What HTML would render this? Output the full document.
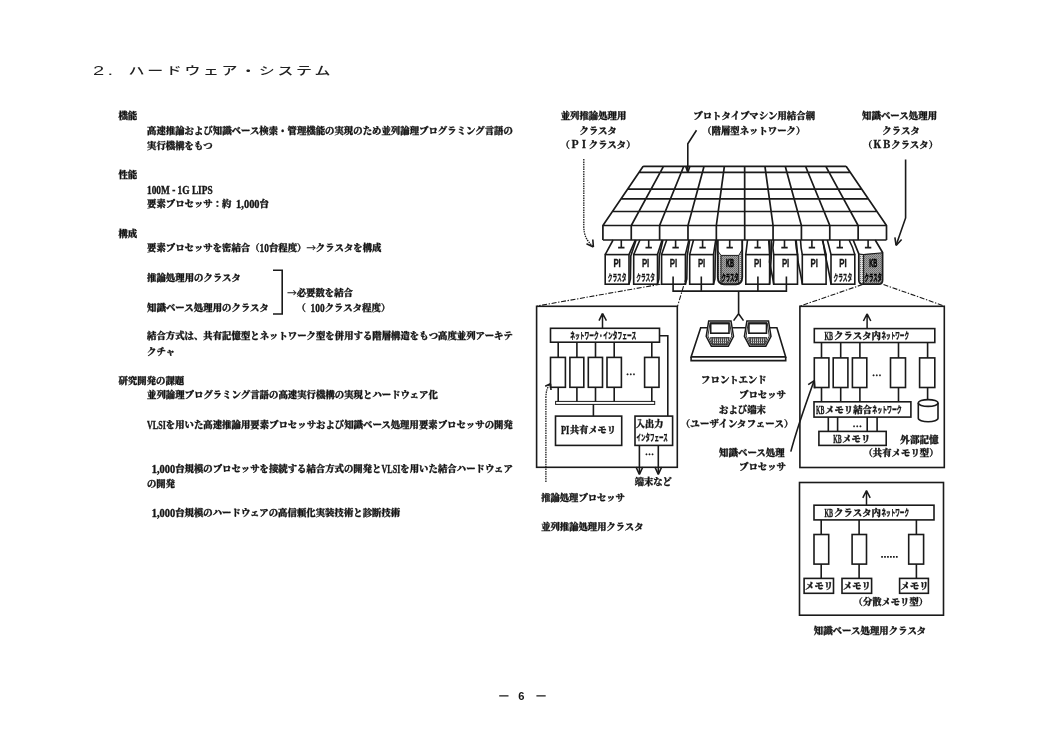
<!DOCTYPE html>
<html lang="ja"><head><meta charset="utf-8"><title>2. ハードウェア・システム</title>
<style>
html,body{margin:0;padding:0;background:#fff;}
svg{display:block;will-change:transform}
text{fill:#161616;white-space:pre}
.m{font-family:"Liberation Serif","Noto Serif CJK JP","Noto Serif CJK SC",serif;font-weight:900;stroke:#161616;stroke-width:0.3}
.a{font-weight:700;stroke-width:0.4}
.ar{font-family:"Noto Serif CJK JP","Noto Serif CJK SC",serif}
.k{font-family:"Liberation Sans","Noto Sans CJK JP",sans-serif;font-weight:900;stroke-width:0.25}
.s{font-family:"Liberation Sans","Noto Sans CJK JP",sans-serif;font-weight:700;stroke:#161616;stroke-width:0.35}
.t{font-family:"Liberation Sans","Noto Sans CJK JP",sans-serif;font-weight:500;fill:#222}
.pn{font-family:"Liberation Sans","Noto Sans CJK JP",sans-serif;font-weight:700}
.l{fill:none;stroke:#1a1a1a;stroke-width:1.6;stroke-linejoin:miter}
.g{stroke-width:1.7}
.n{stroke:none}
.d{fill:none;stroke:#1a1a1a;stroke-width:1.3;stroke-dasharray:1.5 0.9}
.da{fill:none;stroke:#1a1a1a;stroke-width:1.2;stroke-dasharray:4 2}
.dd{fill:none;stroke:#1a1a1a;stroke-width:1.1;stroke-dasharray:5 1.6 1.4 1.6}
</style></head>
<body>
<svg width="1054" height="750" viewBox="0 0 1054 750">
<defs>
<pattern id="sh" width="2" height="2" patternUnits="userSpaceOnUse"><rect width="2" height="2" fill="#a4a4a4"/><rect width="1" height="1" fill="#6a6a6a"/><rect x="1" y="1" width="1" height="1" fill="#7c7c7c"/></pattern>
<pattern id="sl" width="2" height="2" patternUnits="userSpaceOnUse"><rect width="2" height="2" fill="#d8d8d8"/><rect width="1" height="1" fill="#777"/></pattern>
<pattern id="kbd" width="2" height="2.4" patternUnits="userSpaceOnUse"><rect width="2" height="2.4" fill="#ddd"/><rect width="1" height="2.4" fill="#444"/><rect width="2" height="0.9" fill="#555"/></pattern>
</defs>
<rect width="1054" height="750" fill="#fff"/>
<text class="t" transform="translate(93.00,75.3) scale(1.5,1)" font-size="13.4">2</text>
<text class="t" transform="translate(107.50,75.3) scale(1.5,1)" font-size="13.4">.</text>
<text class="t" transform="translate(128.60,75.3) scale(1.48,1)" font-size="10.8">ハ</text>
<text class="t" transform="translate(147.20,75.3) scale(1.48,1)" font-size="10.8">ー</text>
<text class="t" transform="translate(165.80,75.3) scale(1.48,1)" font-size="10.8">ド</text>
<text class="t" transform="translate(184.40,75.3) scale(1.48,1)" font-size="10.8">ウ</text>
<text class="t" transform="translate(203.00,75.3) scale(1.48,1)" font-size="10.8">ェ</text>
<text class="t" transform="translate(221.60,75.3) scale(1.48,1)" font-size="10.8">ア</text>
<text class="t" transform="translate(240.20,75.3) scale(1.48,1)" font-size="10.8">・</text>
<text class="t" transform="translate(258.80,75.3) scale(1.48,1)" font-size="10.8">シ</text>
<text class="t" transform="translate(277.40,75.3) scale(1.48,1)" font-size="10.8">ス</text>
<text class="t" transform="translate(296.00,75.3) scale(1.48,1)" font-size="10.8">テ</text>
<text class="t" transform="translate(314.60,75.3) scale(1.48,1)" font-size="10.8">ム</text>
<text class="m" x="118.50" y="118.88" font-size="9.38" textLength="18.76" lengthAdjust="spacing">機能</text>
<text class="m" x="147.00" y="133.58" font-size="9.38" textLength="365.82" lengthAdjust="spacing">高速推論および知識ベース検索・管理機能の実現のため並列論理プログラミング言語の</text>
<text class="m" x="147.00" y="148.68" font-size="9.38" textLength="65.66" lengthAdjust="spacing">実行機構をもつ</text>
<text class="m" x="118.50" y="178.38" font-size="9.38" textLength="18.76" lengthAdjust="spacing">性能</text>
<text class="m a" x="147.00" y="194.31" font-size="12.38" textLength="65.66" lengthAdjust="spacingAndGlyphs">100M - 1G LIPS</text>
<text class="m" x="147.00" y="207.38" font-size="9.38" textLength="84.42" lengthAdjust="spacing">要素プロセッサ：約</text>
<text class="m a" x="236.11" y="208.31" font-size="12.38" textLength="23.45" lengthAdjust="spacingAndGlyphs">1,000</text>
<text class="m" x="259.56" y="207.38" font-size="9.38" textLength="9.38" lengthAdjust="spacing">台</text>
<text class="m" x="118.50" y="237.38" font-size="9.38" textLength="18.76" lengthAdjust="spacing">構成</text>
<text class="m" x="147.00" y="251.08" font-size="9.38" textLength="112.56" lengthAdjust="spacing">要素プロセッサを密結合（</text>
<text class="m a" x="259.56" y="252.01" font-size="12.38" textLength="9.38" lengthAdjust="spacingAndGlyphs">10</text>
<text class="m" x="268.94" y="251.08" font-size="9.38">台</text>
<text class="m" x="278.32" y="251.08" font-size="9.38">程</text>
<text class="m" x="287.70" y="251.08" font-size="9.38">度</text>
<text class="m" x="297.08" y="251.08" font-size="9.38">）</text>
<text class="m ar" x="306.46" y="251.08" font-size="9.38">→</text>
<text class="m" x="315.84" y="251.08" font-size="9.38">ク</text>
<text class="m" x="325.22" y="251.08" font-size="9.38">ラ</text>
<text class="m" x="334.60" y="251.08" font-size="9.38">ス</text>
<text class="m" x="343.98" y="251.08" font-size="9.38">タ</text>
<text class="m" x="353.36" y="251.08" font-size="9.38">を</text>
<text class="m" x="362.74" y="251.08" font-size="9.38">構</text>
<text class="m" x="372.12" y="251.08" font-size="9.38">成</text>
<text class="m" x="147.00" y="281.38" font-size="9.38" textLength="93.80" lengthAdjust="spacing">推論処理用のクラスタ</text>
<text class="m ar" x="287.30" y="295.88" font-size="9.38">→</text>
<text class="m" x="296.68" y="295.88" font-size="9.38">必</text>
<text class="m" x="306.06" y="295.88" font-size="9.38">要</text>
<text class="m" x="315.44" y="295.88" font-size="9.38">数</text>
<text class="m" x="324.82" y="295.88" font-size="9.38">を</text>
<text class="m" x="334.20" y="295.88" font-size="9.38">結</text>
<text class="m" x="343.58" y="295.88" font-size="9.38">合</text>
<text class="m" x="147.00" y="310.78" font-size="9.38" textLength="121.94" lengthAdjust="spacing">知識ベース処理用のクラスタ</text>
<text class="m" x="296.50" y="310.78" font-size="9.38" textLength="9.38" lengthAdjust="spacing">（</text>
<text class="m a" x="310.57" y="311.71" font-size="12.38" textLength="14.07" lengthAdjust="spacingAndGlyphs">100</text>
<text class="m" x="324.64" y="310.78" font-size="9.38" textLength="65.66" lengthAdjust="spacing">クラスタ程度）</text>
<path class="l" d="M273 270.3 H282.2 V314 H273" />
<text class="m" x="147.00" y="338.58" font-size="9.38" textLength="365.82" lengthAdjust="spacing">結合方式は、共有記憶型とネットワーク型を併用する階層構造をもつ高度並列アーキテ</text>
<text class="m" x="147.00" y="354.88" font-size="9.38" textLength="28.14" lengthAdjust="spacing">クチャ</text>
<text class="m" x="118.50" y="383.88" font-size="9.38" textLength="65.66" lengthAdjust="spacing">研究開発の課題</text>
<text class="m" x="147.00" y="398.08" font-size="9.38" textLength="290.78" lengthAdjust="spacing">並列論理プログラミング言語の高速実行機構の実現とハードウェア化</text>
<text class="m a" x="147.00" y="428.91" font-size="12.38" textLength="18.76" lengthAdjust="spacingAndGlyphs">VLSI</text>
<text class="m" x="165.76" y="427.98" font-size="9.38" textLength="347.06" lengthAdjust="spacing">を用いた高速推論用要素プロセッサおよび知識ベース処理用要素プロセッサの開発</text>
<text class="m a" x="151.69" y="472.51" font-size="12.38" textLength="23.45" lengthAdjust="spacingAndGlyphs">1,000</text>
<text class="m" x="175.14" y="471.58" font-size="9.38" textLength="206.36" lengthAdjust="spacing">台規模のプロセッサを接続する結合方式の開発と</text>
<text class="m a" x="381.50" y="472.51" font-size="12.38" textLength="18.76" lengthAdjust="spacingAndGlyphs">VLSI</text>
<text class="m" x="400.26" y="471.58" font-size="9.38" textLength="112.56" lengthAdjust="spacing">を用いた結合ハードウェア</text>
<text class="m" x="147.00" y="486.68" font-size="9.38" textLength="28.14" lengthAdjust="spacing">の開発</text>
<text class="m a" x="151.69" y="517.21" font-size="12.38" textLength="23.45" lengthAdjust="spacingAndGlyphs">1,000</text>
<text class="m" x="175.14" y="516.28" font-size="9.38" textLength="225.12" lengthAdjust="spacing">台規模のハードウェアの高信頼化実装技術と診断技術</text>
<text class="pn" x="518.3" y="699.9" font-size="11.2">6</text>
<path class="l" d="M499.2 695.9 H508.5 M536.4 695.9 H545.7" style="stroke-width:1.4"/>
<text class="m" x="560.70" y="119.08" font-size="9.38" textLength="65.66" lengthAdjust="spacing">並列推論処理用</text>
<text class="m" x="579.40" y="134.28" font-size="9.38" textLength="37.52" lengthAdjust="spacing">クラスタ</text>
<text class="m" x="560.50" y="148.28" font-size="9.38" textLength="75.04" lengthAdjust="spacing">（ＰＩクラスタ）</text>
<text class="m" x="693.20" y="119.08" font-size="9.38" textLength="121.94" lengthAdjust="spacing">プロトタイプマシン用結合網</text>
<text class="m" x="702.20" y="134.28" font-size="9.38" textLength="103.18" lengthAdjust="spacing">（階層型ネットワーク）</text>
<text class="m" x="862.00" y="119.08" font-size="9.38" textLength="75.04" lengthAdjust="spacing">知識ベース処理用</text>
<text class="m" x="882.30" y="134.28" font-size="9.38" textLength="37.52" lengthAdjust="spacing">クラスタ</text>
<text class="m" x="863.00" y="148.28" font-size="9.38" textLength="75.04" lengthAdjust="spacing">（ＫＢクラスタ）</text>
<path class="d" d="M583.8 159 V226 C583.8 236 587 241 593.2 246.6" />
<path class="l" d="M593.4 247 L592.8 239.5 M593.4 247 L586.5 243.8" />
<path class="l" d="M696.5 130.3 L687.8 143.8 V171.5" />
<path class="l" d="M687.8 172.5 L685.6 166 M687.8 172.5 L690 166" />
<path class="l" d="M905.6 159.5 V217.9 L896.1 245.3" />
<path class="l" d="M896.1 245.5 L894.9 237.3 M896.1 245.5 L901.6 239.5" />
<path class="l g" d="M643.20 166.3 H846.10 M639.05 172.4 H850.26 M627.61 189.2 H861.73 M621.01 198.9 H868.35 M612.43 211.5 H876.95 M602.90 225.5 H886.50 M643.20 166.3 L602.90 225.5 V240.0 M663.49 166.3 L631.26 225.5 V240.0 M683.78 166.3 L659.62 225.5 V240.0 M704.07 166.3 L687.98 225.5 V240.0 M724.36 166.3 L716.34 225.5 V240.0 M744.65 166.3 L744.70 225.5 V240.0 M764.94 166.3 L773.06 225.5 V240.0 M785.23 166.3 L801.42 225.5 V240.0 M805.52 166.3 L829.78 225.5 V240.0 M825.81 166.3 L858.14 225.5 V240.0 M846.10 166.3 L886.50 225.5 V240.0 M602.9 240.0 H886.5" />
<rect class="l" x="605.20" y="254.60" width="23.80" height="29.60" />
<path class="l" d="M605.20 254.6 L613.10 240 M629.00 254.6 L635.30 240" />
<path class="l" d="M636.10 240 L630.80 256 L630.40 279 L629.00 284.2" />
<path class="l" d="M621.3 240 V247.6 M618.0999999999999 247.6 H624.5" />
<text class="s" x="613.40" y="266.7" font-size="10.6" textLength="7.4" lengthAdjust="spacingAndGlyphs">PI</text>
<text class="s k" x="607.70" y="281" font-size="9" textLength="18.8" lengthAdjust="spacingAndGlyphs">クラスタ</text>
<rect class="l" x="633.70" y="254.60" width="23.80" height="29.60" />
<path class="l" d="M633.70 254.6 L639.90 240 M657.50 254.6 L662.10 240" />
<path class="l" d="M662.90 240 L659.30 256 L658.90 279 L657.50 284.2" />
<path class="l" d="M648.7 240 V247.6 M645.5 247.6 H651.9000000000001" />
<text class="s" x="641.90" y="266.7" font-size="10.6" textLength="7.4" lengthAdjust="spacingAndGlyphs">PI</text>
<text class="s k" x="636.20" y="281" font-size="9" textLength="18.8" lengthAdjust="spacingAndGlyphs">クラスタ</text>
<rect class="l" x="661.60" y="254.60" width="23.80" height="29.60" />
<path class="l" d="M661.60 254.6 L666.70 240 M685.40 254.6 L688.90 240" />
<path class="l" d="M689.70 240 L687.20 256 L686.80 279 L685.40 284.2" />
<path class="l" d="M675.6 240 V247.6 M672.4 247.6 H678.8000000000001" />
<text class="s" x="669.80" y="266.7" font-size="10.6" textLength="7.4" lengthAdjust="spacingAndGlyphs">PI</text>
<rect class="l" x="689.70" y="254.60" width="23.80" height="29.60" />
<path class="l" d="M689.70 254.6 L693.50 240 M713.50 254.6 L715.70 240" />
<path class="l" d="M716.50 240 L715.30 256 L714.90 279 L713.50 284.2" />
<path class="l" d="M702.6 240 V247.6 M699.4 247.6 H705.8000000000001" />
<text class="s" x="697.90" y="266.7" font-size="10.6" textLength="7.4" lengthAdjust="spacingAndGlyphs">PI</text>
<path class="n" d="M717.8 251 L721.0 255.4 H738.8 L742.2 249.5 V277 Q742.2 284.2 736 284.2 H724 Q717.8 284.2 717.8 277 Z" style="fill:url(#sl)"/>
<path class="n" d="M721.0 255.4 H738.8 V284.2 H721.0 Z" style="fill:url(#sh)"/>
<path class="l" d="M717.8 240 V277 Q717.8 284.2 724 284.2 H736 Q742.2 284.2 742.2 277 V240" style="stroke-width:1.9"/>
<path class="l" d="M717.8 251 L721.0 255.4 H738.8 L742.2 249.5 M721.0 255.4 V283.2 M738.8 255.4 V283.2" style="stroke-width:1"/>
<path class="l" d="M729.7 240 V247.6 M726.5 247.6 H732.9000000000001" />
<text class="s" x="726.00" y="266.7" font-size="10.6" textLength="8.0" lengthAdjust="spacingAndGlyphs" style="stroke-width:0.6;fill:#000;stroke:#000">KB</text>
<text class="s k" x="721.40" y="281" font-size="9" textLength="17.2" lengthAdjust="spacingAndGlyphs" style="stroke-width:0.5;fill:#000;stroke:#000">クラスタ</text>
<rect class="l" x="745.80" y="254.60" width="23.80" height="29.60" />
<path class="l" d="M745.80 254.6 L747.50 240 M769.60 254.6 L768.70 240" />
<path class="l" d="M771.40 240 L771.20 258 L769.60 284.2" />
<path class="l" d="M757.6 240 V247.6 M754.4 247.6 H760.8000000000001" />
<text class="s" x="754.00" y="266.7" font-size="10.6" textLength="7.4" lengthAdjust="spacingAndGlyphs">PI</text>
<rect class="l" x="773.70" y="254.60" width="23.80" height="29.60" />
<path class="l" d="M773.70 254.6 Q772.20 248 773.70 240 M797.50 254.6 Q796.00 248 795.50 240" />
<path class="l" d="M769.30 240 Q770.70 252 769.50 262 L772.70 278 L773.70 284.2" />
<path class="l" d="M784.5 240 V247.6 M781.3 247.6 H787.7" />
<text class="s" x="781.90" y="266.7" font-size="10.6" textLength="7.4" lengthAdjust="spacingAndGlyphs">PI</text>
<rect class="l" x="802.30" y="254.60" width="23.80" height="29.60" />
<path class="l" d="M802.30 254.6 Q800.80 248 800.50 240 M826.10 254.6 Q824.60 248 822.30 240" />
<path class="l" d="M796.10 240 Q797.50 252 798.10 262 L801.30 278 L802.30 284.2" />
<path class="l" d="M811.9 240 V247.6 M808.6999999999999 247.6 H815.1" />
<text class="s" x="810.50" y="266.7" font-size="10.6" textLength="7.4" lengthAdjust="spacingAndGlyphs">PI</text>
<rect class="l" x="831.00" y="254.60" width="23.80" height="29.60" />
<path class="l" d="M831.00 254.6 Q829.50 248 827.30 240 M854.80 254.6 Q853.30 248 849.10 240" />
<path class="l" d="M822.90 240 Q824.30 252 826.80 262 L830.00 278 L831.00 284.2" />
<path class="l" d="M839.8 240 V247.6 M836.5999999999999 247.6 H843.0" />
<text class="s" x="839.20" y="266.7" font-size="10.6" textLength="7.4" lengthAdjust="spacingAndGlyphs">PI</text>
<text class="s k" x="833.50" y="281" font-size="9" textLength="18.8" lengthAdjust="spacingAndGlyphs">クラスタ</text>
<path class="n" d="M858.8 254 H863.6 V284.2 H863 Q858.8 284.2 858.8 280 Z" style="fill:url(#sl)"/>
<path class="n" d="M863.6 254 L882.6 252.8 V280 Q882.6 284.2 879 284.2 H863.6 Z" style="fill:url(#sh)"/>
<path class="l" d="M853.2 240 L858.8 254 V280 Q858.8 284.2 863 284.2 H879 Q882.6 284.2 882.6 280 V252.5 L875.2 240" style="stroke-width:1.7"/>
<path class="l" d="M858.8 254 L863.6 254.6 L882.6 252.8 M863.6 254.6 V284.2" style="stroke-width:1.1"/>
<path class="l" d="M868.1 240 V247.6 M864.9 247.6 H871.3000000000001" />
<text class="s" x="869.20" y="266.7" font-size="10.6" textLength="8.0" lengthAdjust="spacingAndGlyphs" style="stroke-width:0.6;fill:#000;stroke:#000">KB</text>
<text class="s k" x="864.60" y="281" font-size="9" textLength="17.2" lengthAdjust="spacingAndGlyphs" style="stroke-width:0.5;fill:#000;stroke:#000">クラスタ</text>
<path class="l" d="M673.1 276.6 V291.1 H786.4 V276.6 M701.3 276.6 V291.1 M757.9 276.6 V291.1 M738.6 291.1 V313.8 L733.6 320.6 M738.6 313.8 L743.5 320.6" />
<path class="dd" d="M660.5 284.2 L537 306" />
<path class="dd" d="M686.3 277 L677.6 306" />
<path class="dd" d="M862.5 284.5 L800.2 306" />
<path class="dd" d="M883.5 284.5 L944.2 306" />
<path class="l" d="M700.7 327.8 H776.9 L785.7 356.9 H691.1 Z" style="fill:#fff"/>
<path class="l" d="M691.1 356.9 V360.6 H785.7 V356.9" />
<path class="l" d="M708.70 320.9 H731.00 L733.50 336.3 L728.30 346.2 H711.40 L706.20 336.3 Z" style="fill:#fff;stroke-width:1.5"/>
<path class="l" d="M710.10 322.6 H729.60 L731.80 336 L727.50 344.8 H712.20 L707.90 336 Z" style="stroke-width:0.9"/>
<rect class="l" x="710.70" y="323.60" width="18.30" height="9.60" />
<path class="l" d="M710.40 337.6 H729.30 L726.90 344.6 H712.80 Z" style="fill:url(#kbd);stroke-width:0.8"/>
<path class="l" d="M746.90 320.9 H768.50 L771.00 336.3 L765.80 346.2 H749.60 L744.40 336.3 Z" style="fill:#fff;stroke-width:1.5"/>
<path class="l" d="M748.30 322.6 H767.10 L769.30 336 L765.00 344.8 H750.40 L746.10 336 Z" style="stroke-width:0.9"/>
<rect class="l" x="748.90" y="323.60" width="17.60" height="9.60" />
<path class="l" d="M748.60 337.6 H766.80 L764.40 344.6 H751.00 Z" style="fill:url(#kbd);stroke-width:0.8"/>
<text class="m" x="701.00" y="383.28" font-size="9.38" textLength="65.66" lengthAdjust="spacing">フロントエンド</text>
<text class="m" x="739.00" y="397.58" font-size="9.38" textLength="46.90" lengthAdjust="spacing">プロセッサ</text>
<text class="m" x="719.00" y="413.18" font-size="9.38" textLength="46.90" lengthAdjust="spacing">および端末</text>
<text class="m" x="680.80" y="426.98" font-size="9.38" textLength="112.56" lengthAdjust="spacing">（ユーザインタフェース）</text>
<text class="m" x="719.00" y="455.68" font-size="9.38" textLength="65.66" lengthAdjust="spacing">知識ベース処理</text>
<text class="m" x="739.00" y="470.28" font-size="9.38" textLength="46.90" lengthAdjust="spacing">プロセッサ</text>
<path class="l" d="M790.8 451.6 Q797 428 813.8 381.4" />
<path class="l" d="M814.3 380.6 L808.2 384.6 M814.3 380.6 L814.9 388.2" />
<rect class="l" x="536.60" y="306.30" width="140.70" height="161.00" />
<path class="l" d="M602.5 328 V314 M602.5 313.4 L599 320.6 M602.5 313.4 L606.4 320.6" style="stroke-width:1.5"/>
<rect class="l" x="550.50" y="328.30" width="109.00" height="13.90" />
<text class="m k" x="570.20" y="338.70" font-size="8.6" textLength="66.00" lengthAdjust="spacingAndGlyphs">ネットワーク・インタフェース</text>
<path class="l" d="M659.5 335.8 H667.8 V416.1" />
<rect class="l" x="550.50" y="357.40" width="14.90" height="29.90" />
<path class="l" d="M558.2 342.2 V357.4 M558.2 387.3 V401.4" />
<rect class="l" x="569.90" y="357.40" width="13.90" height="29.90" />
<path class="l" d="M576.9 342.2 V357.4 M576.9 387.3 V401.4" />
<rect class="l" x="588.30" y="357.40" width="14.20" height="29.90" />
<path class="l" d="M595.5 342.2 V357.4 M595.5 387.3 V401.4" />
<rect class="l" x="607.00" y="357.40" width="14.40" height="29.90" />
<path class="l" d="M614.2 342.2 V357.4 M614.2 387.3 V401.4" />
<rect class="l" x="644.60" y="357.40" width="14.40" height="29.90" />
<path class="l" d="M651.8 342.2 V357.4 M651.8 387.3 V401.4" />
<rect class="l" x="555.60" y="401.40" width="99.10" height="3.00" style="stroke-width:1"/>
<text class="m" x="626" y="375.2" font-size="9" textLength="9.5" lengthAdjust="spacingAndGlyphs">…</text>
<path class="l" d="M593.4 404.4 V416.1" />
<rect class="l" x="555.50" y="416.10" width="66.20" height="29.30" />
<text class="m a" x="560.90" y="433.72" font-size="12.41" textLength="8.40" lengthAdjust="spacingAndGlyphs">PI</text>
<text class="m" x="570.00" y="432.71" font-size="9.2" textLength="46.00" lengthAdjust="spacing">共有メモリ</text>
<rect class="l" x="635.00" y="416.10" width="37.60" height="29.30" />
<text class="m" x="635.80" y="427.11" font-size="9.2" textLength="27.60" lengthAdjust="spacing">入出力</text>
<text class="m k" x="636.60" y="441.00" font-size="8.6" textLength="31.20" lengthAdjust="spacingAndGlyphs">インタフェース</text>
<path class="l" d="M639.4 445.4 V473.5 M658.3 445.4 V473.5" />
<path class="l" d="M639.4 474.3 L636 467 M639.4 474.3 L642.8 467 M658.3 474.3 L654.9 467 M658.3 474.3 L661.7 467" />
<text class="m" x="645" y="455.4" font-size="9" textLength="9" lengthAdjust="spacingAndGlyphs">…</text>
<path class="d" d="M545.9 482 V398 Q545.9 388 550.2 384.2" />
<path class="l" d="M550.5 383.8 L545.2 386.2 M550.5 383.8 L551 390" />
<text class="m" x="634.70" y="485.45" font-size="9.3" textLength="37.20" lengthAdjust="spacing">端末など</text>
<text class="m" x="541.20" y="500.55" font-size="9.3" textLength="83.70" lengthAdjust="spacing">推論処理プロセッサ</text>
<text class="m" x="541.20" y="529.85" font-size="9.3" textLength="102.30" lengthAdjust="spacing">並列推論処理用クラスタ</text>
<rect class="l" x="799.90" y="306.30" width="144.40" height="161.20" />
<path class="l" d="M867.1 328.3 V314.5 M867.1 313.9 L863.4 321 M867.1 313.9 L870.8 321" style="stroke-width:1.5"/>
<rect class="l" x="814.30" y="328.60" width="120.50" height="13.90" />
<text class="m a" x="824.40" y="340.12" font-size="12.41" textLength="8.60" lengthAdjust="spacingAndGlyphs">KB</text>
<text class="m" x="834.00" y="339.18" font-size="9.4" textLength="47.00" lengthAdjust="spacing">クラスタ内</text>
<text class="m k" x="881.50" y="338.90" font-size="8.6" textLength="27.50" lengthAdjust="spacingAndGlyphs">ネットワーク</text>
<rect class="l" x="814.30" y="357.90" width="14.60" height="29.60" />
<path class="l" d="M821.5 342.5 V357.9 M821.5 387.5 V401.8" />
<rect class="l" x="833.20" y="357.90" width="14.70" height="29.60" />
<path class="l" d="M840.7 342.5 V357.9 M840.7 387.5 V401.8" />
<rect class="l" x="852.40" y="357.90" width="14.40" height="29.60" />
<path class="l" d="M859.9 342.5 V357.9 M859.9 387.5 V401.8" />
<rect class="l" x="890.50" y="357.90" width="15.00" height="29.60" />
<path class="l" d="M898.5 342.5 V357.9 M898.5 387.5 V401.8" />
<rect class="l" x="919.60" y="357.90" width="15.20" height="29.60" />
<path class="l" d="M927.6 342.5 V357.9 M927.6 387.5 V399.4" />
<text class="m" x="872" y="375.6" font-size="9" textLength="9.5" lengthAdjust="spacingAndGlyphs">…</text>
<rect class="l" x="814.00" y="401.80" width="96.90" height="15.30" />
<text class="m a" x="815.90" y="414.02" font-size="12.41" textLength="8.40" lengthAdjust="spacingAndGlyphs">KB</text>
<text class="m" x="825.00" y="413.08" font-size="9.4" textLength="47.00" lengthAdjust="spacing">メモリ結合</text>
<text class="m k" x="872.30" y="412.80" font-size="8.6" textLength="29.50" lengthAdjust="spacingAndGlyphs">ネットワーク</text>
<path class="l" d="M918.3 403 V418.3 A9.85 3.4 0 0 0 938 418.3 V403" />
<ellipse class="l" cx="928.15" cy="403" rx="9.85" ry="3.4"/>
<path class="l" d="M828.3 417.1 V431.4 M837.6 417.1 V431.4 M867.2 417.1 V431.4 M877.1 417.1 V431.4" />
<text class="m" x="852.5" y="426.6" font-size="9" textLength="9.5" lengthAdjust="spacingAndGlyphs">…</text>
<rect class="l" x="818.90" y="431.40" width="67.30" height="14.00" />
<text class="m a" x="833.20" y="443.12" font-size="12.41" textLength="8.40" lengthAdjust="spacingAndGlyphs">KB</text>
<text class="m" x="842.20" y="442.18" font-size="9.4" textLength="28.20" lengthAdjust="spacing">メモリ</text>
<text class="m" x="900.30" y="443.26" font-size="9.6" textLength="38.40" lengthAdjust="spacing">外部記憶</text>
<text class="m" x="863.40" y="456.18" font-size="9.4" textLength="75.20" lengthAdjust="spacing">（共有メモリ型）</text>
<rect class="l" x="799.50" y="482.50" width="144.00" height="132.70" />
<path class="l" d="M866.5 505 V491 M866.5 490.5 L862.8 497.8 M866.5 490.5 L870.2 497.8" style="stroke-width:1.5"/>
<rect class="l" x="814.00" y="505.20" width="120.00" height="14.70" />
<text class="m a" x="824.40" y="517.22" font-size="12.41" textLength="8.60" lengthAdjust="spacingAndGlyphs">KB</text>
<text class="m" x="834.00" y="516.28" font-size="9.4" textLength="47.00" lengthAdjust="spacing">クラスタ内</text>
<text class="m k" x="881.50" y="516.00" font-size="8.6" textLength="27.50" lengthAdjust="spacingAndGlyphs">ネットワーク</text>
<rect class="l" x="814.00" y="534.50" width="14.70" height="29.60" />
<path class="l" d="M821.2 519.9 V534.5 M821.2 564.1 V578.5" />
<rect class="l" x="852.10" y="534.50" width="14.40" height="29.60" />
<path class="l" d="M859.1 519.9 V534.5 M859.1 564.1 V578.5" />
<rect class="l" x="908.70" y="534.50" width="14.90" height="29.60" />
<path class="l" d="M916.4 519.9 V534.5 M916.4 564.1 V578.5" />
<path class="l" d="M881.2 556.9 H898.8" style="stroke-dasharray:1.7 1.25;stroke-width:1.7"/>
<rect class="l" x="804.10" y="578.40" width="29.40" height="14.90" />
<text class="m" x="805.10" y="589.05" font-size="9.3" textLength="27.90" lengthAdjust="spacing">メモリ</text>
<rect class="l" x="842.00" y="578.40" width="29.60" height="14.90" />
<text class="m" x="843.00" y="589.05" font-size="9.3" textLength="27.90" lengthAdjust="spacing">メモリ</text>
<rect class="l" x="899.60" y="578.40" width="28.80" height="14.90" />
<text class="m" x="900.60" y="589.05" font-size="9.3" textLength="27.90" lengthAdjust="spacing">メモリ</text>
<text class="m" x="853.60" y="604.65" font-size="9.3" textLength="74.40" lengthAdjust="spacing">（分散メモリ型）</text>
<text class="m" x="813.70" y="633.78" font-size="9.38" textLength="112.56" lengthAdjust="spacing">知識ベース処理用クラスタ</text>
</svg>
</body></html>
